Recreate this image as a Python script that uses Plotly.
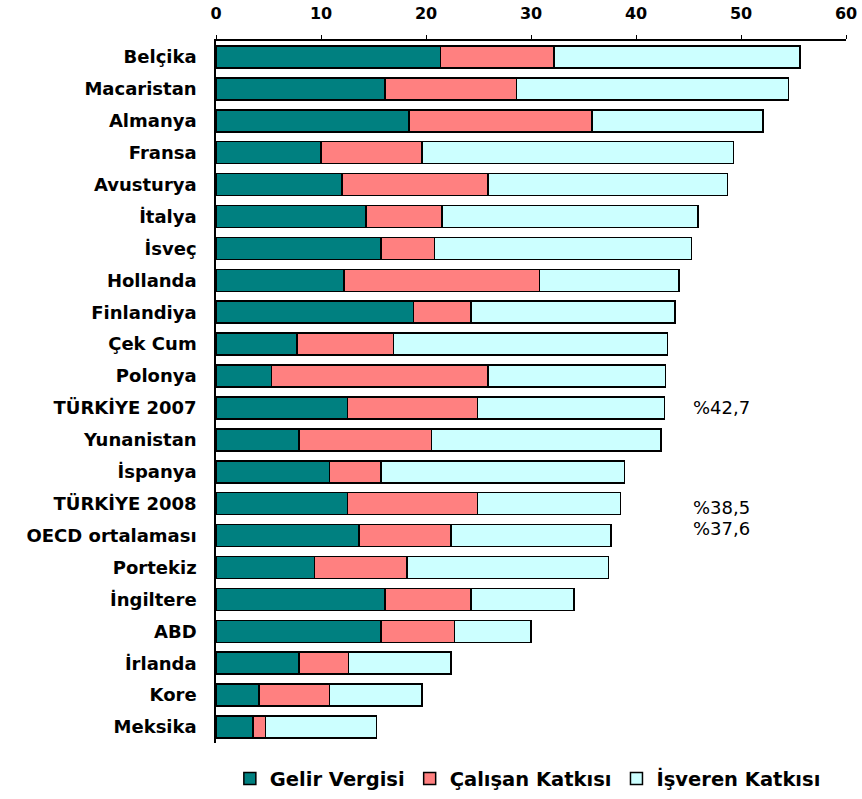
import plotly.graph_objects as go

countries = ["Belçika", "Macaristan", "Almanya", "Fransa", "Avusturya", "İtalya", "İsveç",
             "Hollanda", "Finlandiya", "Çek Cum", "Polonya", "TÜRKİYE 2007", "Yunanistan",
             "İspanya", "TÜRKİYE 2008", "OECD ortalaması", "Portekiz", "İngiltere", "ABD",
             "İrlanda", "Kore", "Meksika"]
gelir = [21.4, 16.1, 18.4, 10.0, 12.0, 14.3, 15.7, 12.2, 18.8, 7.7, 5.3, 12.5, 7.9,
         10.8, 12.5, 13.6, 9.4, 16.1, 15.7, 7.9, 4.1, 3.5]
calisan = [10.8, 12.5, 17.4, 9.6, 13.9, 7.2, 5.1, 18.6, 5.5, 9.2, 20.6, 12.4, 12.6,
           4.9, 12.4, 8.8, 8.8, 8.2, 7.0, 4.7, 6.7, 1.2]
isveren = [23.4, 25.9, 16.3, 29.7, 22.8, 24.4, 24.5, 13.3, 19.4, 26.1, 16.9, 17.8, 21.9,
           23.2, 13.6, 15.2, 19.2, 9.8, 7.3, 9.8, 8.8, 10.6]
series_names = ["Gelir Vergisi", "Çalışan Katkısı", "İşveren Katkısı"]
colors = ["#008080", "#FF8080", "#CCFFFF"]
x_ticks = [0, 10, 20, 30, 40, 50, 60]
note_labels = {"TÜRKİYE 2007": "%42,7", "TÜRKİYE 2008": "%38,5", "OECD ortalaması": "%37,6"}
note_shift = {"TÜRKİYE 2007": 0, "TÜRKİYE 2008": -4, "OECD ortalaması": 7}

FONT = "DejaVu Sans, Verdana, sans-serif"

fig = go.Figure()
for name, vals, col in zip(series_names, [gelir, calisan, isveren], colors):
    fig.add_trace(go.Bar(
        y=countries, x=vals, name=name, orientation="h",
        marker=dict(color=col, line=dict(color="black", width=1.5)),
        width=0.69,
    ))

for cat, txt in note_labels.items():
    fig.add_annotation(x=45.2, y=cat, text=txt, showarrow=False, xanchor="left",
                       yshift=note_shift[cat],
                       font=dict(family=FONT, size=18, color="black"))

fig.update_layout(
    barmode="stack",
    width=862, height=799,
    margin=dict(l=216, r=16, t=41, b=56, autoexpand=False),
    plot_bgcolor="white", paper_bgcolor="white",
    showlegend=True,
    legend=dict(orientation="h", x=0.495, xanchor="center", y=-0.051, yanchor="middle",
                font=dict(family=FONT, size=19.5, color="black", weight="bold"),
                traceorder="normal", itemwidth=30),
    xaxis=dict(side="top", range=[0, 60], tickvals=x_ticks, showgrid=False, zeroline=False,
               automargin=False,
               showline=True, linecolor="black", linewidth=1.5, ticks="outside", ticklen=4,
               tickcolor="black", ticklabelstandoff=10,
               tickfont=dict(family=FONT, size=16, color="black", weight="bold")),
    yaxis=dict(autorange="reversed", showgrid=False, showline=True, linecolor="black",
               automargin=False,
               linewidth=1.5, ticks="", ticklabelstandoff=14,
               tickfont=dict(family=FONT, size=18, color="black", weight="bold")),
)

fig.write_html("out.html", config={"displayModeBar": False},
               post_script="document.body.style.margin='0';")
